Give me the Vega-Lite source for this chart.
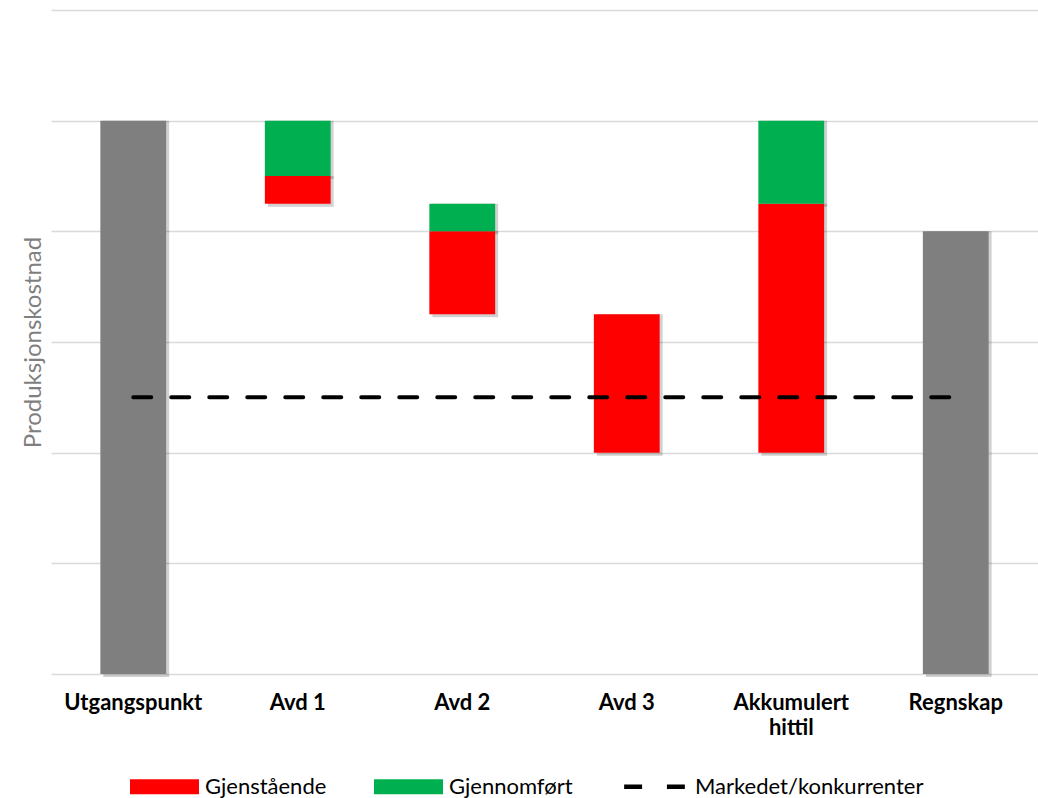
{
  "$schema": "https://vega.github.io/schema/vega-lite/v6.json",
  "autosize": {"type": "none"},
  "padding": {"left": 51, "top": 10, "right": 0, "bottom": 124},
  "width": 987,
  "height": 664,
  "background": "white",
  "config": {
    "view": {"stroke": null},
    "font": "Lato",
    "legend": {
      "labelFont": "Lato",
      "labelFontSize": 22,
      "labelColor": "#000000",
      "labelLimit": 400,
      "symbolSize": 4761,
      "symbolOpacity": 1,
      "symbolStrokeWidth": 0,
      "labelOffset": 6,
      "columnPadding": 47
    }
  },
  "datasets": {
    "bars": [
      {"kategori": "Utgangspunkt", "type": "Total", "fra": 0, "til": 5},
      {"kategori": "Avd 1", "type": "Gjenstående", "fra": 4.25, "til": 4.5},
      {"kategori": "Avd 1", "type": "Gjennomført", "fra": 4.5, "til": 5},
      {"kategori": "Avd 2", "type": "Gjenstående", "fra": 3.25, "til": 4},
      {"kategori": "Avd 2", "type": "Gjennomført", "fra": 4, "til": 4.25},
      {"kategori": "Avd 3", "type": "Gjenstående", "fra": 2, "til": 3.25},
      {"kategori": "Akkumulert hittil", "type": "Gjenstående", "fra": 2, "til": 4.25},
      {"kategori": "Akkumulert hittil", "type": "Gjennomført", "fra": 4.25, "til": 5},
      {"kategori": "Regnskap", "type": "Total", "fra": 0, "til": 4}
    ],
    "marked": [
      {"kategori": "Utgangspunkt", "type": "Markedet/konkurrenter", "verdi": 2.5},
      {"kategori": "Avd 1", "type": "Markedet/konkurrenter", "verdi": 2.5},
      {"kategori": "Avd 2", "type": "Markedet/konkurrenter", "verdi": 2.5},
      {"kategori": "Avd 3", "type": "Markedet/konkurrenter", "verdi": 2.5},
      {"kategori": "Akkumulert hittil", "type": "Markedet/konkurrenter", "verdi": 2.5},
      {"kategori": "Regnskap", "type": "Markedet/konkurrenter", "verdi": 2.5}
    ]
  },
  "encoding": {
    "x": {
      "field": "kategori",
      "type": "nominal",
      "sort": ["Utgangspunkt", "Avd 1", "Avd 2", "Avd 3", "Akkumulert hittil", "Regnskap"],
      "scale": {"paddingInner": 0.6, "paddingOuter": 0.3},
      "axis": {
        "title": null,
        "domain": false,
        "ticks": false,
        "grid": false,
        "labelAngle": 0,
        "labelFont": "Lato",
        "labelFontSize": 22,
        "labelFontWeight": "bold",
        "labelColor": "#000000",
        "labelPadding": 18,
        "labelLineHeight": 25,
        "labelExpr": "datum.label == 'Akkumulert hittil' ? ['Akkumulert', 'hittil'] : datum.label"
      }
    }
  },
  "layer": [
    {
      "data": {"name": "bars"},
      "mark": {"type": "bar", "fill": "#000000", "opacity": 0.18, "xOffset": 3, "yOffset": 3},
      "encoding": {
        "y": {
          "field": "fra",
          "type": "quantitative",
          "scale": {"domain": [0, 6], "nice": false},
          "axis": {
            "title": "Produksjonskostnad",
            "titleFont": "Lato",
            "titleFontSize": 24,
            "titleFontWeight": "normal",
            "titleColor": "#7f7f7f",
            "titlePadding": 6,
            "labels": false,
            "ticks": false,
            "domain": false,
            "grid": true,
            "gridColor": "#d9d9d9",
            "gridWidth": 1.5,
            "values": [0, 1, 2, 3, 4, 5, 6]
          }
        },
        "y2": {"field": "til"}
      }
    },
    {
      "data": {"name": "bars"},
      "mark": {"type": "bar"},
      "encoding": {
        "y": {"field": "fra", "type": "quantitative"},
        "y2": {"field": "til"},
        "fill": {
          "field": "type",
          "type": "nominal",
          "scale": {
            "domain": ["Gjenstående", "Gjennomført", "Total"],
            "range": ["#ff0000", "#00b050", "#7f7f7f"]
          },
          "legend": null
        }
      }
    },
    {
      "data": {"name": "marked"},
      "mark": {"type": "line", "strokeWidth": 4, "strokeDash": [18, 20], "strokeCap": "round", "stroke": "#000000"},
      "encoding": {
        "y": {"field": "verdi", "type": "quantitative"}
      }
    },
    {
      "data": {"name": "marked"},
      "mark": {"type": "point", "filled": true, "opacity": 0},
      "encoding": {
        "y": {"field": "verdi", "type": "quantitative"},
        "color": {
          "field": "type",
          "type": "nominal",
          "scale": {
            "domain": ["Gjenstående", "Gjennomført", "Markedet/konkurrenter"],
            "range": ["#ff0000", "#00b050", "#000000"]
          },
          "legend": {
            "title": null,
            "orient": "none",
            "direction": "horizontal",
            "legendX": 79,
            "legendY": 742
          }
        },
        "shape": {
          "field": "type",
          "type": "nominal",
          "scale": {
            "domain": ["Gjenstående", "Gjennomført", "Markedet/konkurrenter"],
            "range": [
              "M-1,-0.217H1V0.217H-1Z",
              "M-1,-0.217H1V0.217H-1Z",
              "M-0.88,-0.065H-0.36V0.065H-0.88Z M0.36,-0.065H0.88V0.065H0.36Z"
            ]
          },
          "legend": {
            "title": null,
            "orient": "none",
            "direction": "horizontal",
            "legendX": 79,
            "legendY": 742
          }
        }
      }
    }
  ]
}
